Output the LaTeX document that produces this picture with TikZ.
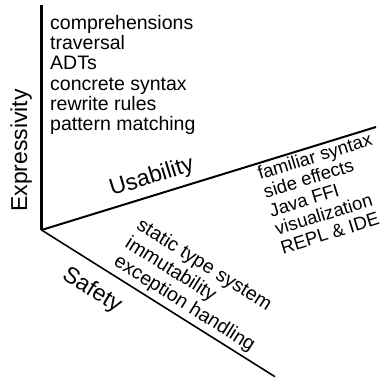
\documentclass[tikz,border=0pt]{standalone}
\usepackage{fontspec}
\setmainfont{Liberation Sans}
\begin{document}
\begin{tikzpicture}[x=1pt,y=1pt,
  axislabel/.style={font=\fontsize{23}{26}\selectfont, inner sep=0pt, anchor=base west},
  item/.style={font=\fontsize{19.5}{22}\selectfont, inner sep=0pt, anchor=base west},
  uitem/.style={font=\fontsize{18.5}{21}\selectfont, inner sep=0pt, anchor=base west}]
\useasboundingbox (0,0) rectangle (382,380);
% axes
\coordinate (O) at (41.5,150);
\coordinate (Etop) at (41.5,375);
\coordinate (Uend) at (376,253);
\coordinate (Send) at (275,3.3);
\draw[line width=2.4pt] (Etop) -- (O);
\draw[line width=2pt] (O) -- (Uend);
\draw[line width=1.6pt] (O) -- (Send);
% axis labels
\node[axislabel, rotate=90] (expr) at (27,168) {Expressivity};
\node[axislabel, rotate=17.2] (usab) at (112,184) {Usability};
\node[axislabel, rotate=-32.2] (safe) at (61,102) {Safety};
% expressivity items
\node[item] (e1) at (50,350.7) {comprehensions};
\node[item] (e2) at (50,330.4) {traversal};
\node[item] (e3) at (50,310.1) {ADTs};
\node[item] (e4) at (50,289.8) {concrete syntax};
\node[item] (e5) at (50,269.5) {rewrite rules};
\node[item] (e6) at (50,249.2) {pattern matching};
% usability items
\begin{scope}[shift={(260,200)}, rotate=17.2]
\node[uitem, rotate=17.2] (u1) at (0,0) {familiar syntax};
\node[uitem, rotate=17.2] (u2) at (0,-19.4) {side effects};
\node[uitem, rotate=17.2] (u3) at (0,-38.8) {Java FFI};
\node[uitem, rotate=17.2] (u4) at (0,-58.2) {visualization};
\node[uitem, rotate=17.2] (u5) at (0,-77.6) {REPL \& IDE};
\end{scope}
% safety items
\begin{scope}[shift={(135.5,151.5)}, rotate=-32.2]
\node[item, rotate=-32.2] (s1) at (0,0) {static type system};
\node[item, rotate=-32.2] (s2) at (0,-21.5) {immutability};
\node[item, rotate=-32.2] (s3) at (0,-43) {exception handling};
\end{scope}
\end{tikzpicture}
\end{document}
